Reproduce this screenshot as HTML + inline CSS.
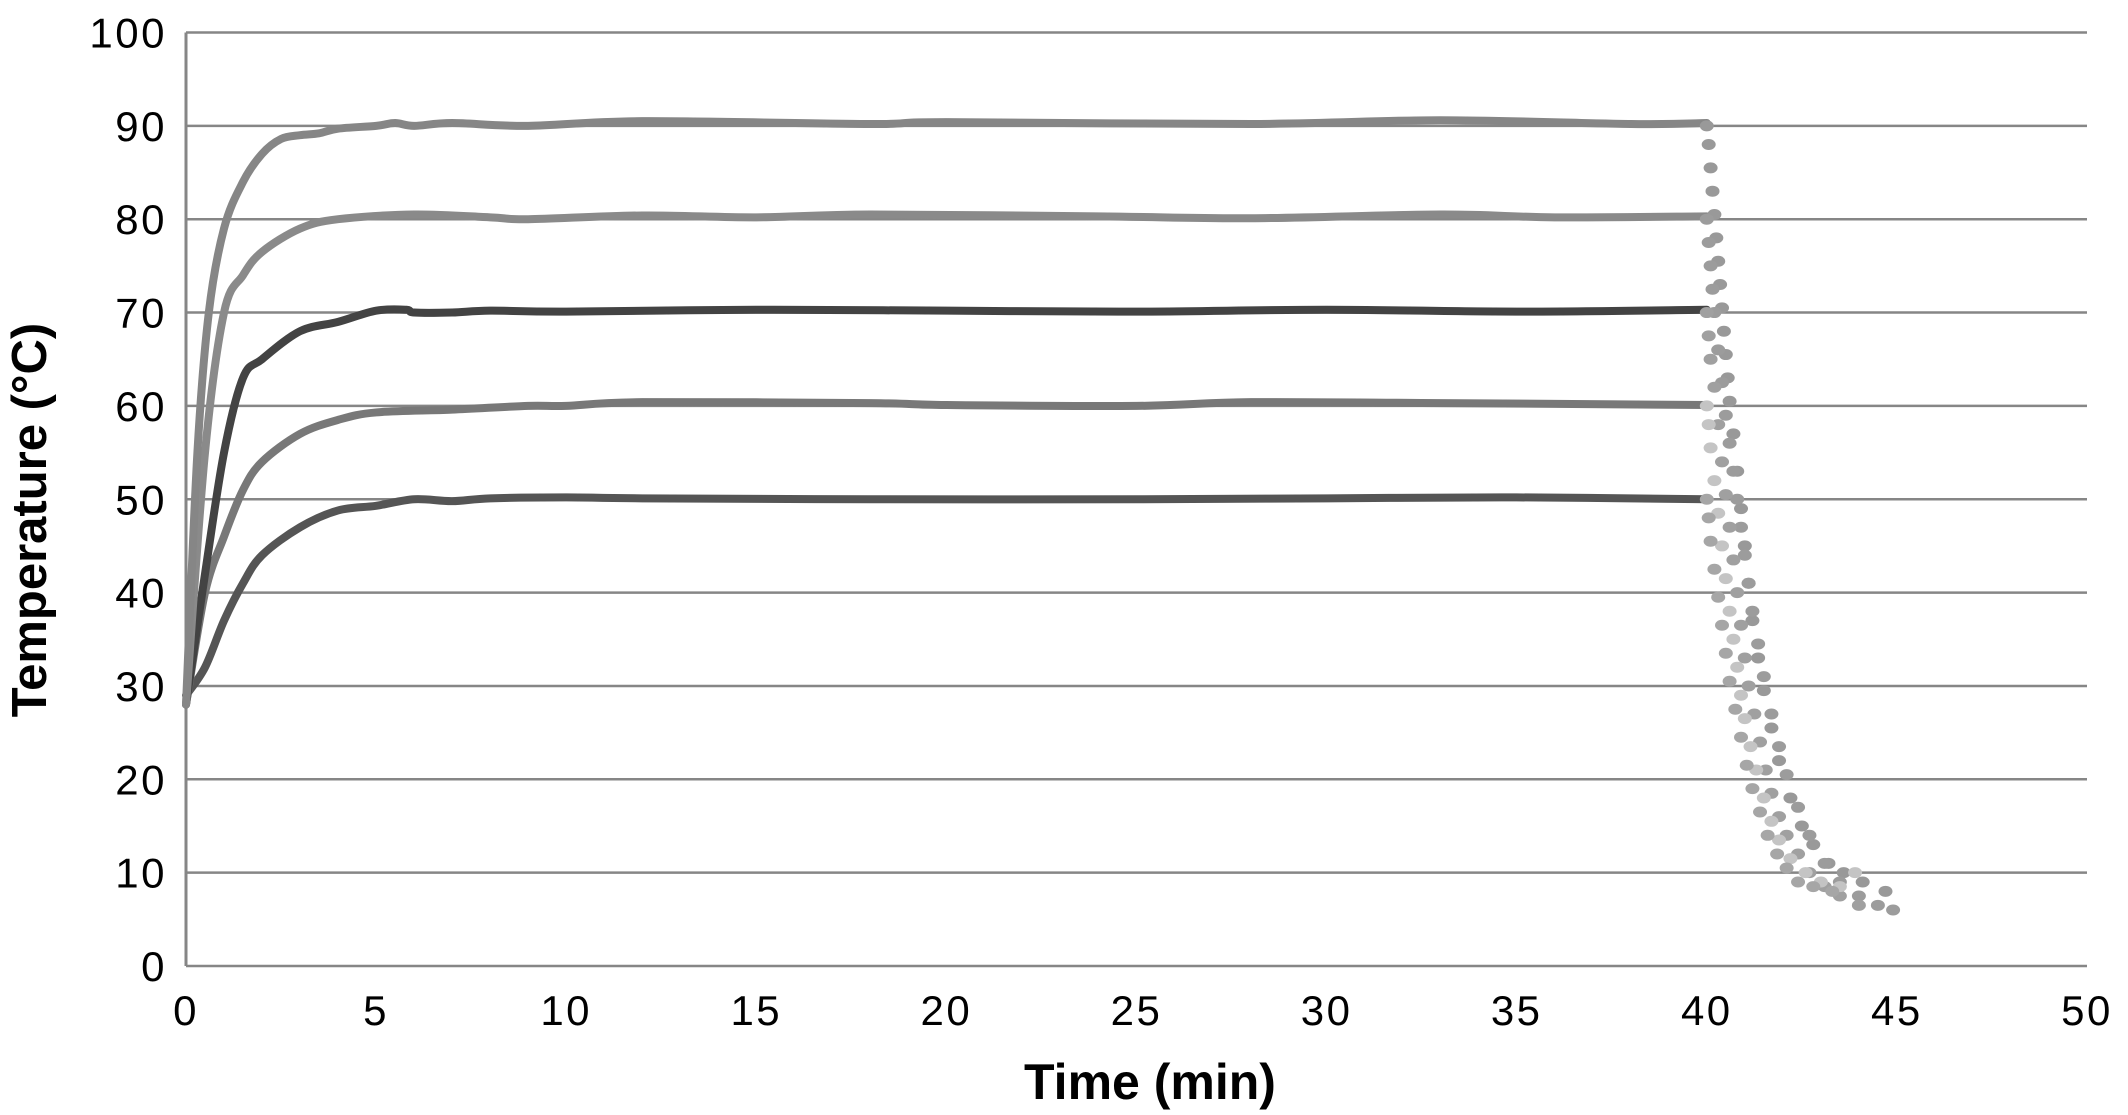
<!DOCTYPE html>
<html><head><meta charset="utf-8"><style>
html,body{margin:0;padding:0;background:#fff;}
svg{display:block;font-family:"Liberation Sans",sans-serif;}
</style></head><body>
<svg id="chart" width="2128" height="1115" viewBox="0 0 2128 1115" xmlns="http://www.w3.org/2000/svg">
<g id="grid"></g>
<g id="yticks"></g>
<g id="xticks"></g>
<g id="lines"></g>
<g id="dots"></g>
<text x="0" y="0" transform="translate(46,520) rotate(-90)" text-anchor="middle" font-weight="bold" font-size="49" fill="#000">Temperature (°C)</text>
<text x="1150" y="1099" text-anchor="middle" font-weight="bold" font-size="50" fill="#000">Time (min)</text>
</svg>
<script>
const yTicks=[0,10,20,30,40,50,60,70,80,90,100];
const xTicks=[0,5,10,15,20,25,30,35,40,45,50];
const t90=[0,0.3,0.6,1,1.5,2,2.5,3,3.5,4,5,5.5,6,7,9,12,18,20,28,33,38,40];
const v90=[28,55,70,79,84,87,88.6,89,89.2,89.7,90,90.3,90,90.3,90,90.5,90.2,90.4,90.2,90.6,90.2,90.3];
const t80=[0,0.5,1,1.5,2,3,4,6,8,9,12,15,18,24,28,33,36,40];
const v80=[28,55,70,74,76.5,79,80,80.5,80.2,80,80.4,80.2,80.5,80.3,80.1,80.5,80.2,80.3];
const t70=[0,0.5,1,1.5,2,3,4,5,5.8,6,7,8,10,15,20,25,30,35,40];
const v70=[28,42,55,63,65,68,69,70.2,70.3,70,70,70.2,70.1,70.3,70.2,70.1,70.3,70.1,70.3];
const t60=[0,0.5,1,1.5,2,3,4,5,7,9,10,12,18,20,25,28,33,40];
const v60=[28,40,46,51,54,57,58.5,59.3,59.6,60,60,60.4,60.3,60.1,60,60.4,60.3,60.1];
const t50=[0,0.5,1,1.5,2,3,4,5,6,7,8,10,12,18,25,30,35,40];
const v50=[29,32,37,41,44,47,48.8,49.3,50,49.8,50.1,50.2,50.1,50,50,50.1,50.2,50];
const ct90=[40,40.05,40.1,40.15,40.2,40.25,40.3,40.35,40.4,40.45,40.5,40.55,40.6,40.7,40.8,40.9,41,41.1,41.2,41.35,41.5,41.7,41.9,42.2,42.5,42.8,43.2,43.6,44.1,44.7];
const cv90=[90,88,85.5,83,80.5,78,75.5,73,70.5,68,65.5,63,60.5,57,53,49,45,41,37,33,29.5,25.5,22,18,15,13,11,10,9,8];
const ct80=[40,40.05,40.1,40.15,40.2,40.3,40.4,40.5,40.6,40.7,40.8,40.9,41,41.1,41.2,41.35,41.5,41.7,41.9,42.1,42.4,42.7,43.1,43.5,44,44.5,44.9];
const cv80=[80,77.5,75,72.5,70,66,62.5,59,56,53,50,47,44,41,38,34.5,31,27,23.5,20.5,17,14,11,9,7.5,6.5,6];
const ct70=[40,40.05,40.1,40.2,40.3,40.4,40.5,40.6,40.7,40.8,40.9,41,41.1,41.25,41.4,41.55,41.7,41.9,42.1,42.4,42.7,43.1,43.5,44];
const cv70=[70,67.5,65,62,58,54,50.5,47,43.5,40,36.5,33,30,27,24,21,18.5,16,14,12,10,8.5,7.5,6.5];
const ct60=[40,40.05,40.1,40.2,40.3,40.4,40.5,40.6,40.7,40.8,40.9,41,41.15,41.3,41.5,41.7,41.9,42.2,42.6,43,43.5,43.9];
const cv60=[60,58,55.5,52,48.5,45,41.5,38,35,32,29,26.5,23.5,21,18,15.5,13.5,11.5,10,9,8.5,10];
const ct50=[40,40.05,40.1,40.2,40.3,40.4,40.5,40.6,40.75,40.9,41.05,41.2,41.4,41.6,41.85,42.1,42.4,42.8,43.3];
const cv50=[50,48,45.5,42.5,39.5,36.5,33.5,30.5,27.5,24.5,21.5,19,16.5,14,12,10.5,9,8.5,8];
const X0=186,X1=2087,Y0=966,Y1=32.5;
const xs=v=>X0+(X1-X0)*v/50;
const ys=v=>Y0-(Y0-Y1)*v/100;
const NS="http://www.w3.org/2000/svg";
function mk(tag,parent){const e=document.createElementNS(NS,tag);document.getElementById(parent).appendChild(e);return e;}
function smooth(pts){
  let d='M'+pts[0][0]+','+pts[0][1];
  for(let i=0;i<pts.length-1;i++){
    const p0=pts[Math.max(0,i-1)],p1=pts[i],p2=pts[i+1],p3=pts[Math.min(pts.length-1,i+2)];
    const c1x=p1[0]+(p2[0]-p0[0])/6,c1y=p1[1]+(p2[1]-p0[1])/6;
    const c2x=p2[0]-(p3[0]-p1[0])/6,c2y=p2[1]-(p3[1]-p1[1])/6;
    d+=' C'+c1x+','+c1y+' '+c2x+','+c2y+' '+p2[0]+','+p2[1];
  }
  return d;
}
yTicks.forEach(v=>{
  const l=mk('line','grid');
  
  
  l.setAttribute('x1',X0);l.setAttribute('x2',X1);l.setAttribute('y1',ys(v));l.setAttribute('y2',ys(v));
  l.setAttribute('stroke','#868686');l.setAttribute('stroke-width','2.5');
  const t=mk('text','yticks');
  
  
  t.setAttribute('x',167);t.setAttribute('y',ys(v)+15);t.setAttribute('text-anchor','end');
  t.setAttribute('font-size','42');t.setAttribute('letter-spacing','2.5');t.textContent=v;
});
const ax=mk('line','grid');


ax.setAttribute('x1',X0);ax.setAttribute('x2',X0);ax.setAttribute('y1',Y1);ax.setAttribute('y2',Y0);
ax.setAttribute('stroke','#868686');ax.setAttribute('stroke-width','3');
xTicks.forEach(v=>{
  const t=mk('text','xticks');
  
  
  t.setAttribute('x',xs(v));t.setAttribute('y',1025);t.setAttribute('text-anchor','middle');
  t.setAttribute('font-size','42');t.setAttribute('letter-spacing','2.5');t.textContent=v;
});
const series=[[t50,v50,'#555555','50'],[t60,v60,'#787878','60'],[t70,v70,'#434343','70'],[t80,v80,'#8a8a8a','80'],[t90,v90,'#868686','90']];
series.forEach(s=>{
  const p=mk('path','lines');
  
  
  p.setAttribute('d',smooth(s[0].map((t,i)=>[xs(t),ys(s[1][i])])));
  p.setAttribute('fill','none');p.setAttribute('stroke',s[2]);p.setAttribute('stroke-width','8');
  p.setAttribute('stroke-linejoin','round');p.setAttribute('stroke-linecap','round');
});
const cool=[[ct90,cv90,'#999999','90'],[ct80,cv80,'#9c9c9c','80'],[ct70,cv70,'#a0a0a0','70'],[ct60,cv60,'#c4c4c4','60'],[ct50,cv50,'#a6a6a6','50']];
cool.forEach(s=>{
  s[0].forEach((t,i)=>{
    const c=mk('ellipse','dots');
    
    
    c.setAttribute('cx',xs(t));c.setAttribute('cy',ys(s[1][i]));
    c.setAttribute('rx','7');c.setAttribute('ry','5.5');c.setAttribute('fill',s[2]);
  });
});
</script>
</body></html>
